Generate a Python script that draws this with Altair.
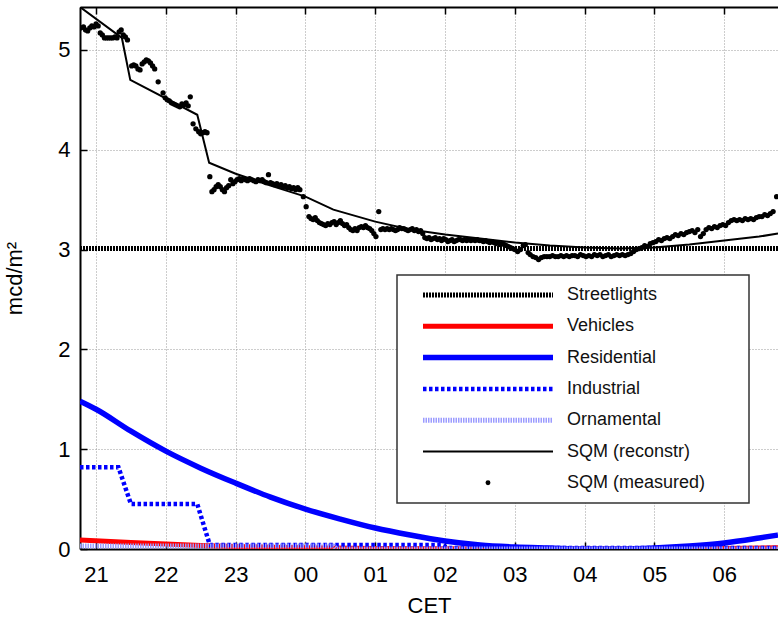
import altair as alt
import pandas as pd

FONT = "Liberation Sans"

# ---------------- data ----------------
x_ticks = [21, 22, 23, 24, 25, 26, 27, 28, 29, 30]
y_ticks = [0, 1, 2, 3, 4, 5]
x_domain = [20.77, 30.77]
y_domain = [0, 5.43]

street_h = [20.77, 30.77]
street_v = [3.01, 3.01]

veh_h = [20.77, 21.5, 22.0, 22.5, 23.0, 23.5, 24.0, 25.0, 26.0, 27.0, 29.0, 30.0, 30.77]
veh_v = [0.09, 0.065, 0.05, 0.035, 0.025, 0.018, 0.012, 0.006, 0.003, 0.0, 0.0, 0.004, 0.012]

res_h = [20.77, 21.0, 21.5, 22.0, 22.5, 23.0, 23.5, 24.0, 24.5, 25.0, 25.5,
         26.0, 26.5, 27.0, 27.5, 28.0, 28.5, 29.0, 29.5, 30.0, 30.5, 30.77]
res_v = [1.48, 1.40, 1.18, 0.98, 0.81, 0.66, 0.52, 0.40, 0.30, 0.21, 0.14,
         0.08, 0.04, 0.02, 0.01, 0.0, 0.0, 0.01, 0.03, 0.06, 0.11, 0.14]

ind_h = [20.77, 21.32, 21.50, 22.45, 22.63, 25.95, 26.05, 30.77]
ind_v = [0.82, 0.82, 0.45, 0.45, 0.04, 0.04, 0.01, 0.01]

orn_h = [20.77, 24.40, 24.45, 30.77]
orn_v = [0.03, 0.03, 0.0, 0.0]

rec_h = [20.77, 21.37, 21.49, 22.45, 22.62, 23.0, 23.5, 24.0, 24.4, 25.0, 25.5,
         26.0, 26.5, 27.0, 27.5, 28.0, 28.5, 29.0, 29.5, 30.0, 30.5, 30.77]
rec_v = [5.43, 5.12, 4.70, 4.35, 3.87, 3.76, 3.64, 3.53, 3.40, 3.28, 3.20,
         3.15, 3.11, 3.07, 3.04, 3.02, 3.01, 3.02, 3.05, 3.09, 3.13, 3.16]

meas_h = [
    20.78, 20.82, 20.85, 20.88, 20.91, 20.94, 20.97, 21.00, 21.03, 21.06, 21.09, 21.12,
    21.15, 21.18, 21.21, 21.24, 21.27, 21.30, 21.33, 21.36, 21.39, 21.42, 21.45,
    21.51, 21.54, 21.57, 21.60, 21.63, 21.66, 21.69, 21.72, 21.75, 21.78, 21.81, 21.84,
    21.89, 21.96,
    21.99, 22.02, 22.05, 22.08, 22.11, 22.14, 22.17, 22.20, 22.23, 22.26, 22.29, 22.32,
    22.35, 22.39, 22.43, 22.47, 22.50, 22.53, 22.56, 22.59,
    22.63, 22.66, 22.69, 22.72, 22.75, 22.78, 22.81, 22.84, 22.87, 22.90, 22.93, 22.96,
    22.99, 23.02, 23.05, 23.08, 23.11, 23.14, 23.17, 23.20, 23.23, 23.26, 23.29, 23.32,
    23.35, 23.38, 23.41, 23.44, 23.47, 23.50, 23.53, 23.56, 23.59, 23.62, 23.65, 23.68,
    23.71, 23.74, 23.77, 23.80, 23.83, 23.86, 23.89, 23.92, 23.97, 24.01, 24.05, 24.08,
    24.11, 24.14, 24.17, 24.20, 24.23, 24.26, 24.29, 24.32, 24.35,
    24.38, 24.41, 24.44, 24.47, 24.50, 24.53, 24.56, 24.59, 24.62, 24.65, 24.68, 24.71,
    24.74, 24.77, 24.80, 24.83, 24.86, 24.89, 24.92, 24.95, 24.98, 25.01, 25.05, 25.08,
    25.11, 25.14, 25.17, 25.20, 25.23, 25.26, 25.29, 25.32, 25.35, 25.38, 25.41, 25.44,
    25.47, 25.50, 25.53, 25.56, 25.59, 25.62, 25.65, 25.68, 25.71, 25.74, 25.77, 25.80,
    25.83, 25.86, 25.89, 25.92, 25.95, 25.98, 26.01, 26.04, 26.07, 26.10, 26.13, 26.16,
    26.19, 26.22, 26.25, 26.28, 26.31, 26.34, 26.37, 26.40, 26.43, 26.46, 26.49,
    26.52, 26.55, 26.58, 26.61, 26.64, 26.67, 26.70, 26.73, 26.76, 26.79, 26.82, 26.85,
    26.88, 26.91, 26.94, 26.97, 27.00, 27.04, 27.08, 27.12, 27.15, 27.19, 27.22, 27.26,
    27.30, 27.34, 27.38, 27.42, 27.46, 27.50, 27.54, 27.58, 27.62, 27.66, 27.70, 27.74,
    27.78, 27.82, 27.86, 27.90, 27.94, 27.98, 28.02, 28.06, 28.10, 28.14, 28.18, 28.22,
    28.26, 28.30, 28.34, 28.38, 28.42, 28.46, 28.50, 28.54, 28.58, 28.62, 28.66,
    28.70, 28.74, 28.78, 28.82, 28.86, 28.90, 28.94, 28.98, 29.02, 29.06, 29.10, 29.14,
    29.18, 29.22, 29.26, 29.30, 29.34, 29.38, 29.42, 29.46, 29.50, 29.54, 29.58, 29.62,
    29.66, 29.70, 29.74, 29.78, 29.82, 29.86, 29.90, 29.94, 29.98, 30.02, 30.06, 30.10,
    30.14, 30.18, 30.22, 30.26, 30.30, 30.34, 30.38, 30.42, 30.46, 30.50, 30.54, 30.58,
    30.62, 30.66, 30.70, 30.75,
]
meas_v = [
    5.22, 5.23, 5.20, 5.19, 5.22, 5.24, 5.23, 5.26, 5.24, 5.17, 5.15, 5.12,
    5.12, 5.12, 5.12, 5.12, 5.13, 5.12, 5.18, 5.20, 5.15, 5.13, 5.10,
    4.84, 4.85, 4.84, 4.81, 4.80, 4.86, 4.88, 4.90, 4.89, 4.87, 4.84, 4.81,
    4.68, 4.57,
    4.52, 4.50, 4.49, 4.47, 4.46, 4.45, 4.44, 4.43, 4.46, 4.45, 4.47, 4.44,
    4.53, 4.26, 4.21, 4.18, 4.16, 4.17, 4.18, 4.17,
    3.73, 3.58, 3.60, 3.63, 3.65, 3.63, 3.60, 3.58, 3.62, 3.64, 3.70, 3.66,
    3.68, 3.70, 3.71, 3.69, 3.71, 3.70, 3.69, 3.71, 3.70, 3.69, 3.68, 3.70,
    3.69, 3.70, 3.68, 3.67, 3.75, 3.67, 3.66, 3.65, 3.66, 3.64, 3.65, 3.63,
    3.64, 3.62, 3.63, 3.61, 3.62, 3.60, 3.62, 3.60, 3.53, 3.43, 3.33, 3.31,
    3.30, 3.32, 3.29, 3.27, 3.26, 3.25, 3.24, 3.26, 3.25,
    3.27, 3.28, 3.25, 3.27, 3.29, 3.26, 3.24, 3.25, 3.22, 3.20, 3.19, 3.21,
    3.19, 3.22, 3.23, 3.22, 3.24, 3.22, 3.21, 3.19, 3.16, 3.13, 3.38, 3.20,
    3.21, 3.20, 3.21, 3.20, 3.21, 3.20, 3.19, 3.20, 3.22, 3.21, 3.21, 3.20,
    3.19, 3.20, 3.21, 3.19, 3.20, 3.18, 3.19, 3.16, 3.12, 3.11, 3.12, 3.10,
    3.11, 3.12, 3.10, 3.11, 3.09, 3.11, 3.10, 3.08, 3.09, 3.10, 3.08, 3.09,
    3.10, 3.10, 3.09, 3.10, 3.09, 3.10, 3.09, 3.10, 3.09, 3.10, 3.09,
    3.09, 3.08, 3.09, 3.08, 3.07, 3.08, 3.07, 3.06, 3.07, 3.05, 3.06, 3.05,
    3.04, 3.03, 3.02, 3.01, 3.00, 2.98, 3.00, 3.04, 3.05, 2.97, 2.95, 2.93,
    2.92, 2.90, 2.92, 2.93, 2.93, 2.93, 2.94, 2.93, 2.93, 2.94, 2.93, 2.94,
    2.93, 2.94, 2.94, 2.93, 2.95, 2.94, 2.93, 2.94, 2.93, 2.95, 2.94, 2.95,
    2.93, 2.94, 2.95, 2.93, 2.94, 2.95, 2.94, 2.95, 2.94, 2.95, 2.96,
    2.98, 3.00, 3.01, 3.02, 3.04, 3.03, 3.06, 3.07, 3.08, 3.10, 3.09, 3.11,
    3.12, 3.11, 3.13, 3.15, 3.14, 3.16, 3.15, 3.17, 3.18, 3.19, 3.17, 3.20,
    3.13, 3.16, 3.20, 3.22, 3.21, 3.23, 3.22, 3.24, 3.25, 3.24, 3.27, 3.29,
    3.30, 3.29, 3.30, 3.29, 3.31, 3.30, 3.31, 3.30, 3.32, 3.33, 3.33, 3.35,
    3.34, 3.36, 3.38, 3.53,
]

legend_labels = ["Streetlights", "Vehicles", "Residential", "Industrial",
                 "Ornamental", "SQM (reconstr)", "SQM (measured)"]

# ---------------- styles ----------------
styles = {
    "Streetlights": dict(color="black", strokeWidth=5, strokeDash=[2, 1]),
    "Vehicles": dict(color="#ff0000", strokeWidth=5),
    "Residential": dict(color="#0000ff", strokeWidth=5.5),
    "Industrial": dict(color="#0000ff", strokeWidth=4.5, strokeDash=[3.5, 2.5]),
    "Ornamental": dict(color="#9c9cff", strokeWidth=5, strokeDash=[1.5, 1]),
    "SQM (reconstr)": dict(color="black", strokeWidth=2),
}

xs = alt.Scale(domain=x_domain, nice=False, zero=False)
ys = alt.Scale(domain=y_domain, nice=False, zero=False)

label_expr = "(datum.value % 24 < 10 ? '0' : '') + (datum.value % 24)"

common_axis = dict(
    domainColor="black", domainWidth=2, tickColor="black", tickWidth=1.5,
    tickSize={"expr": "-7"}, labelFont=FONT, labelFontSize=22, labelColor="black",
    titleFont=FONT, titleFontSize=22, titleFontWeight="normal", titleColor="black",
    gridColor="#9a9a9a", gridDash=[1, 2], gridWidth=1,
)

x_axis = alt.Axis(orient="bottom", values=x_ticks, labelExpr=label_expr, title="CET",
                  grid=True, labelPadding=22, titlePadding=10, **common_axis)
x_axis_top = alt.Axis(orient="top", values=x_ticks, labels=False, title="", grid=False,
                      **common_axis)
y_axis = alt.Axis(orient="left", values=y_ticks, format="d", title="mcd/m²", grid=True,
                  labelPadding=17, titlePadding=31, **common_axis)


def frame(h, v):
    return pd.DataFrame({"h": h, "v": v})


def line(df, name, xax=None, yax=None, interp="linear"):
    return alt.Chart(df).mark_line(clip=True, interpolate=interp, **styles[name]).encode(
        x=alt.X("h:Q", scale=xs, axis=xax),
        y=alt.Y("v:Q", scale=ys, axis=yax),
    )


layers = [
    line(frame(street_h, street_v), "Streetlights", xax=x_axis, yax=y_axis),
    line(frame(veh_h, veh_v), "Vehicles", xax=x_axis_top),
    line(frame(res_h, res_v), "Residential", interp="monotone"),
    line(frame(ind_h, ind_v), "Industrial"),
    line(frame(orn_h, orn_v), "Ornamental"),
    line(frame(rec_h, rec_v), "SQM (reconstr)"),
    alt.Chart(frame(meas_h, meas_v)).mark_circle(color="black", size=28, opacity=1, clip=True).encode(
        x=alt.X("h:Q", scale=xs, axis=None),
        y=alt.Y("v:Q", scale=ys, axis=None),
    ),
]

# ---------------- legend box ----------------
one = pd.DataFrame({"k": [0]})
box_x0, box_x1, box_y0, box_y1 = 317, 669, 268, 496
sym_x0, sym_x1, text_x = 343, 473, 487
row_y0, row_dy = 288, 31.3

layers.append(alt.Chart(one).mark_rect(fill="white", stroke="#333333", strokeWidth=1.5).encode(
    x=alt.value(box_x0), x2=alt.value(box_x1), y=alt.value(box_y0), y2=alt.value(box_y1)))

for i, lab in enumerate(legend_labels):
    ry = row_y0 + i * row_dy
    if lab in styles:
        layers.append(alt.Chart(one).mark_rule(**styles[lab]).encode(
            x=alt.value(sym_x0), x2=alt.value(sym_x1), y=alt.value(ry)))
    else:
        layers.append(alt.Chart(one).mark_circle(color="black", size=24, opacity=1).encode(
            x=alt.value((sym_x0 + sym_x1) / 2), y=alt.value(ry)))
    layers.append(alt.Chart(one).mark_text(text=lab, align="left", baseline="middle",
                                           font=FONT, fontSize=18, color="#111111").encode(
        x=alt.value(text_x), y=alt.value(ry)))

chart = alt.layer(*layers).resolve_axis(x="independent", y="independent").properties(
    width=698, height=542,
    padding={"left": 80, "top": 7, "right": 0, "bottom": 70},
    autosize="none",
    background="white",
).configure_view(strokeWidth=0)

chart.save("out.html", embed_options={"renderer": "svg", "actions": False})
